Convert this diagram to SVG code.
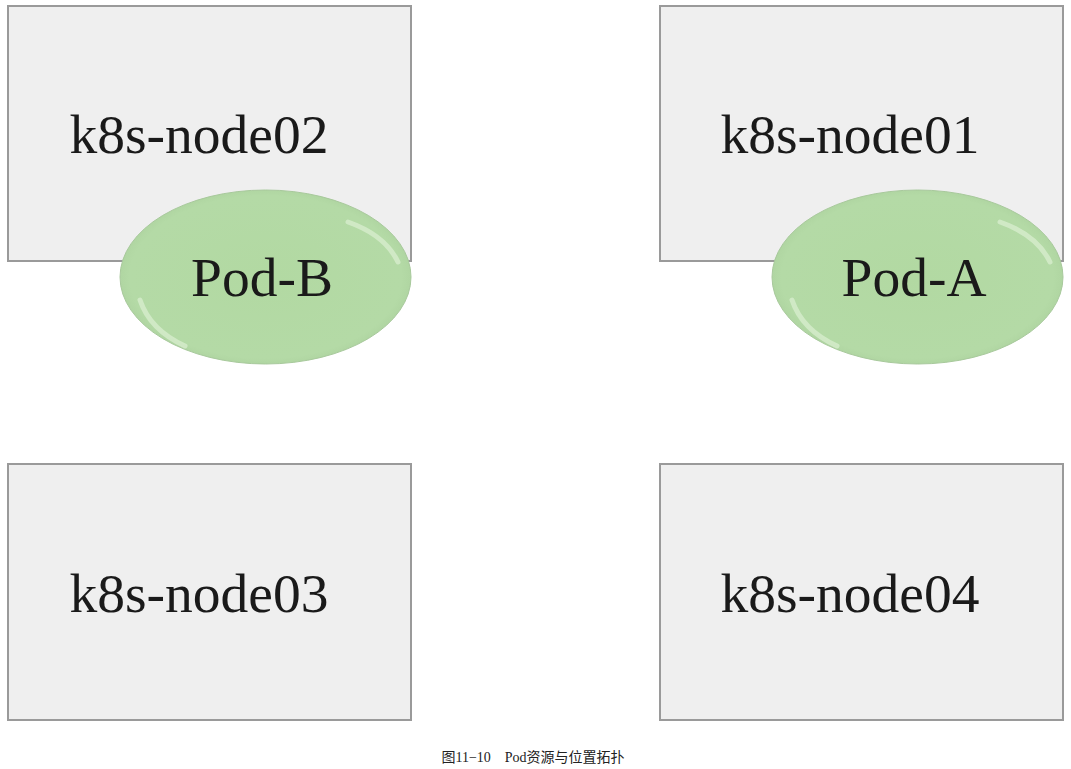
<svg xmlns="http://www.w3.org/2000/svg" width="1071" height="769" viewBox="0 0 1071 769">
<style>
.node{fill:#efefef;stroke:#9a9a9a;stroke-width:2}
.pod{fill:url(#podg);stroke:#a8c99c;stroke-width:1}
.hl{fill:none;stroke:#e2f3da;stroke-width:5;stroke-linecap:round;opacity:0.6}
.lbl{font-family:"Liberation Serif","Times New Roman",serif;font-size:55.5px;fill:#1a1a1a;text-anchor:middle}
.cap{font-family:"Liberation Serif","Noto Sans CJK SC",serif;font-size:14px;fill:#222;text-anchor:middle}
</style>
<defs>
<radialGradient id="podg" cx="0.5" cy="0.5" r="0.55">
<stop offset="0" stop-color="#b2d9a2"/>
<stop offset="0.85" stop-color="#b4daa6"/>
<stop offset="1" stop-color="#a9cf9b"/>
</radialGradient>
</defs>
<rect width="1071" height="769" fill="#ffffff"/>
<g id="node02">
<rect class="node" x="8" y="6" width="403" height="255"/>
<text class="lbl" x="199" y="153">k8s-node02</text>
</g>
<g id="node01">
<rect class="node" x="660" y="6" width="403" height="255"/>
<text class="lbl" x="850" y="153">k8s-node01</text>
</g>
<g id="node03">
<rect class="node" x="8" y="464" width="403" height="256"/>
<text class="lbl" x="199" y="612">k8s-node03</text>
</g>
<g id="node04">
<rect class="node" x="660" y="464" width="403" height="256"/>
<text class="lbl" x="850" y="612">k8s-node04</text>
</g>
<g id="podB">
<ellipse class="pod" cx="265.5" cy="277" rx="145.5" ry="87"/>
<path class="hl" d="M348,222 Q385,235 398,262"/>
<path class="hl" d="M140,300 Q150,330 185,346"/>
<text class="lbl" x="262" y="296">Pod-B</text>
</g>
<g id="podA">
<ellipse class="pod" cx="917.5" cy="277" rx="145.5" ry="87"/>
<path class="hl" d="M1000,222 Q1037,235 1050,262"/>
<path class="hl" d="M792,300 Q802,330 837,346"/>
<text class="lbl" x="914" y="296">Pod-A</text>
</g>
<g id="connectors"></g>
<text class="cap" x="533" y="762">图11−10　Pod资源与位置拓扑</text>
</svg>
